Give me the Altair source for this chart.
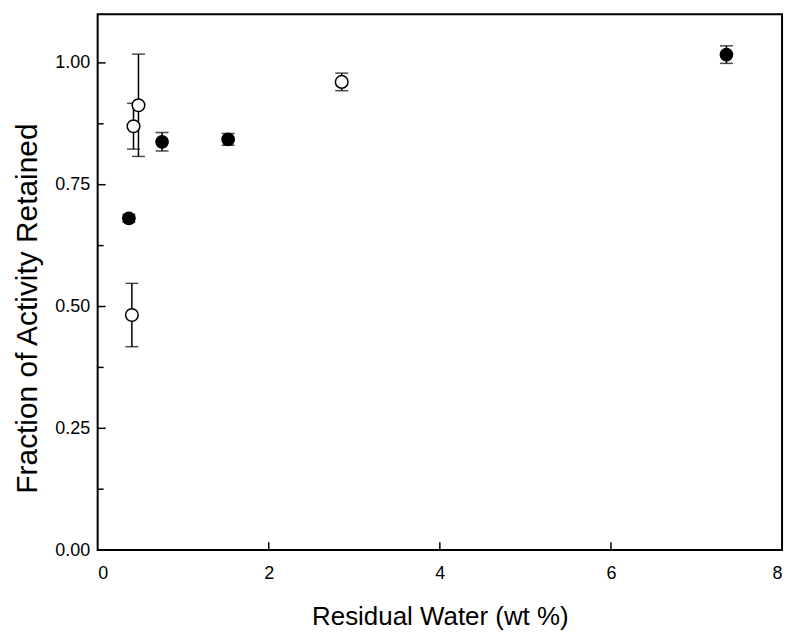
import altair as alt
import pandas as pd

# Filled circles
filled_x = [0.365, 0.753, 1.525, 7.35]
filled_y = [0.681, 0.838, 0.843, 1.017]
filled_err = [0.008, 0.019, 0.012, 0.018]

# Open circles
open_x = [0.40, 0.419, 0.477, 2.853]
open_y = [0.4825, 0.870, 0.913, 0.961]
open_err = [0.065, 0.047, 0.105, 0.018]

x_ticks = [0, 2, 4, 6, 8]
y_ticks = [0.0, 0.25, 0.5, 0.75, 1.0]
y_minor = [0.125, 0.375, 0.625, 0.875]

FONT = "Liberation Sans"
X_TITLE = "Residual Water (wt %)"
Y_TITLE = "Fraction of Activity Retained"

filled = pd.DataFrame({"x": filled_x, "y": filled_y, "err": filled_err})
opened = pd.DataFrame({"x": open_x, "y": open_y, "err": open_err})
for d in (filled, opened):
    d["lo"] = d["y"] - d["err"]
    d["hi"] = d["y"] + d["err"]
allpts = pd.concat([filled, opened], ignore_index=True)

xs = alt.Scale(domain=[0, 8], nice=False, zero=False)
ys = alt.Scale(domain=[0, 1.1], nice=False, zero=False)
x_axis = alt.Axis(values=x_ticks, format="d", labelPadding=14, titlePadding=22, titleFontSize=26)
y_axis = alt.Axis(values=y_ticks, format=".2f", labelPadding=8, titlePadding=12,
                  titleFontSize=30, titleY=295)


def X(f):
    return alt.X(f, scale=xs, axis=x_axis, title=X_TITLE)


def Y(f):
    return alt.Y(f, scale=ys, axis=y_axis, title=Y_TITLE)


W, H = 687, 538

xt = alt.Chart(pd.DataFrame({"v": x_ticks[1:-1]})).mark_rule(color="black", strokeWidth=1.5).encode(
    x=X("v:Q"), y=alt.value(H), y2=alt.value(H - 8))
yt = alt.Chart(pd.DataFrame({"v": y_ticks[1:]})).mark_rule(color="black", strokeWidth=1.5).encode(
    y=Y("v:Q"), x=alt.value(0), x2=alt.value(8))
ym = alt.Chart(pd.DataFrame({"v": y_minor})).mark_rule(color="black", strokeWidth=1.5).encode(
    y=Y("v:Q"), x=alt.value(0), x2=alt.value(6))

bars = alt.Chart(allpts).mark_rule(color="black", strokeWidth=1.5).encode(
    x=X("x:Q"), y=Y("lo:Q"), y2="hi:Q")
cap_lo = alt.Chart(allpts).mark_tick(color="black", orient="horizontal", size=13, thickness=1.5).encode(
    x=X("x:Q"), y=Y("lo:Q"))
cap_hi = alt.Chart(allpts).mark_tick(color="black", orient="horizontal", size=13, thickness=1.5).encode(
    x=X("x:Q"), y=Y("hi:Q"))

pf = alt.Chart(filled).mark_point(shape="circle", filled=True, color="black", size=190, opacity=1).encode(
    x=X("x:Q"), y=Y("y:Q"))
po = alt.Chart(opened).mark_point(shape="circle", filled=True, fill="white", stroke="black",
                                  strokeWidth=1.5, size=160, opacity=1).encode(
    x=X("x:Q"), y=Y("y:Q"))

chart = alt.layer(xt, yt, ym, bars, cap_lo, cap_hi, pf, po).properties(
    width=W, height=H,
    autosize=alt.AutoSizeParams(type="none"),
    padding={"left": 90, "top": 5, "right": 10, "bottom": 80},
    background="white",
).configure_view(stroke="black", strokeWidth=2).configure_axis(
    grid=False, domain=False, ticks=False,
    labelFont=FONT, labelFontSize=18, labelColor="black",
    titleFont=FONT, titleFontWeight="normal", titleColor="black",
)

chart.save("out.html", embed_options={"renderer": "svg", "actions": False})
